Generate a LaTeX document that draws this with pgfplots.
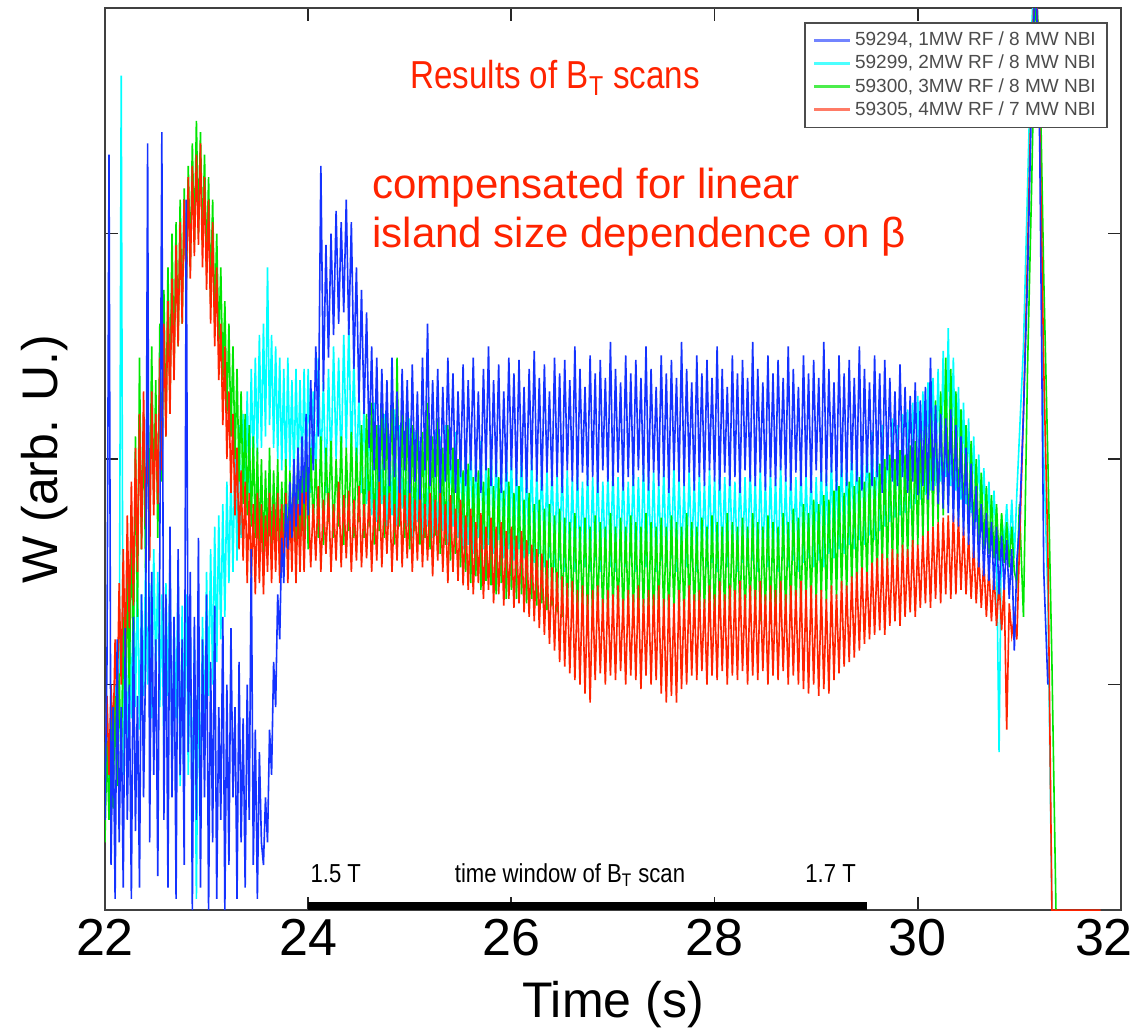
\documentclass[border=0pt]{standalone}
\usepackage{pgfplots}
\pgfplotsset{compat=1.18}
\usepackage{pgfplotstable}
\usepackage{fontspec}
\setmainfont{Liberation Sans}
\definecolor{bW}{RGB}{20,50,255}
\definecolor{cW}{RGB}{0,255,255}
\definecolor{gW}{RGB}{0,230,0}
\definecolor{rW}{RGB}{255,35,0}
\pgfplotstableread{
t b c g r
22.00 0.40 0.60 0.30 0.65
22.02 1.10 0.95 0.75 0.95
22.04 3.35 0.45 0.40 0.60
22.06 0.20 0.90 0.85 1.00
22.08 0.90 0.50 0.45 0.75
22.10 0.05 1.00 0.95 1.20
22.12 1.20 0.60 0.55 0.90
22.14 0.30 0.85 1.05 1.45
22.16 0.90 3.70 0.60 1.00
22.18 0.10 0.60 1.30 1.60
22.20 1.25 1.10 0.80 1.10
22.22 0.40 0.75 1.50 1.75
22.24 1.00 1.35 0.95 1.25
22.26 0.05 0.85 1.75 1.90
22.28 1.30 1.45 1.10 1.35
22.30 0.35 0.90 2.10 2.05
22.32 0.95 1.50 1.30 1.50
22.34 0.10 0.80 2.45 2.20
22.36 1.40 1.40 1.60 1.60
22.38 0.50 0.95 2.20 2.30
22.40 1.10 1.55 1.50 1.70
22.42 3.40 1.00 2.40 2.15
22.44 0.30 1.45 1.70 1.55
22.46 1.50 0.85 2.50 2.30
22.48 0.60 1.60 1.80 1.75
22.50 1.20 1.05 2.35 2.20
22.52 0.15 1.50 1.65 1.80
22.54 1.60 0.90 2.60 2.45
22.56 3.45 1.40 1.90 1.95
22.58 0.40 0.70 2.75 2.60
22.60 1.40 1.45 2.10 2.10
22.62 0.10 0.95 2.85 2.70
22.64 1.70 1.55 2.25 2.20
22.66 0.50 0.60 3.00 2.80
22.68 1.30 1.30 2.40 2.35
22.70 0.05 0.85 3.05 2.95
22.72 1.60 1.50 2.50 2.50
22.74 0.60 0.55 3.15 3.05
22.76 1.20 1.35 2.60 2.60
22.78 0.20 0.80 3.20 3.15
22.80 3.15 1.40 2.75 2.75
22.82 0.70 0.60 3.30 3.25
22.84 1.50 1.25 2.85 2.80
22.86 0.00 0.35 3.40 3.30
22.88 1.30 1.20 2.95 2.90
22.90 0.40 0.05 3.50 3.35
22.92 1.65 1.10 3.00 2.95
22.94 0.10 0.40 3.45 3.40
22.96 1.20 1.30 2.95 2.85
22.98 0.50 0.80 3.35 3.25
23.00 1.40 1.50 2.85 2.75
23.02 0.00 0.95 3.25 3.15
23.04 1.10 1.60 2.70 2.60
23.06 0.30 1.00 3.15 3.05
23.08 1.35 1.70 2.60 2.50
23.10 0.05 1.10 3.00 2.85
23.12 0.90 1.75 2.50 2.35
23.14 0.40 1.20 2.85 2.60
23.16 1.30 1.80 2.35 2.15
23.18 0.00 1.30 2.70 2.50
23.20 1.00 1.90 2.20 2.00
23.22 0.20 1.45 2.60 2.30
23.24 1.25 1.95 2.10 1.85
23.26 0.50 1.50 2.50 2.20
23.28 0.90 2.05 2.00 1.75
23.30 0.05 1.55 2.40 2.05
23.32 1.10 2.15 1.90 1.60
23.34 0.30 1.65 2.30 1.95
23.36 0.85 2.20 1.80 1.55
23.38 0.10 1.75 2.20 1.90
23.40 1.00 2.30 1.75 1.45
23.42 0.40 1.85 2.15 1.85
23.44 1.60 2.40 1.70 1.45
23.46 0.20 1.95 2.10 1.80
23.48 0.80 2.45 1.65 1.40
23.50 0.05 2.00 2.05 1.85
23.52 0.70 2.55 1.60 1.45
23.54 0.30 2.05 2.00 1.80
23.56 0.20 2.60 1.55 1.40
23.58 0.50 2.10 1.95 1.75
23.60 0.30 2.85 1.60 1.50
23.62 0.80 2.15 2.05 1.85
23.64 0.60 2.55 1.55 1.45
23.66 1.10 2.05 1.95 1.80
23.68 0.90 2.50 1.60 1.50
23.70 1.40 2.00 2.00 1.85
23.72 1.20 2.45 1.55 1.45
23.74 1.65 1.95 1.90 1.80
23.76 1.45 2.40 1.60 1.50
23.78 1.80 1.90 2.00 1.85
23.80 1.60 2.45 1.55 1.45
23.82 1.90 1.95 1.95 1.80
23.84 1.65 2.35 1.60 1.50
23.86 2.00 1.90 2.00 1.85
23.88 1.70 2.40 1.55 1.45
23.90 2.05 1.95 2.05 1.80
23.92 1.75 2.35 1.60 1.50
23.94 2.10 1.90 2.00 1.85
23.96 1.80 2.40 1.60 1.50
23.98 2.20 1.90 2.05 1.85
24.000 1.75 2.40 1.60 1.85
24.025 2.35 1.85 2.05 1.52
24.050 1.95 2.30 1.70 1.80
24.075 2.50 1.90 2.00 1.55
24.100 2.10 2.45 1.65 1.88
24.125 3.30 1.95 2.10 1.50
24.150 2.30 2.35 1.62 1.82
24.175 2.95 1.85 2.05 1.58
24.200 2.45 2.40 1.72 1.85
24.225 3.00 1.95 2.08 1.50
24.250 2.55 2.50 1.65 1.80
24.275 3.10 2.00 2.00 1.55
24.300 2.60 2.45 1.70 1.90
24.325 3.05 1.95 2.10 1.52
24.350 2.65 2.55 1.62 1.84
24.375 3.15 2.05 2.05 1.56
24.400 2.55 2.60 1.68 1.86
24.425 3.05 2.00 2.12 1.50
24.450 2.40 2.45 1.65 1.82
24.475 2.85 1.90 2.05 1.55
24.500 2.25 2.30 1.72 1.88
24.525 2.75 1.85 2.15 1.52
24.550 2.20 2.25 1.65 1.80
24.575 2.65 1.80 2.20 1.56
24.600 2.05 2.20 1.70 1.86
24.625 2.50 1.75 2.25 1.50
24.650 1.95 2.25 1.62 1.82
24.675 2.45 1.72 2.15 1.55
24.700 1.90 2.15 1.68 1.90
24.725 2.40 1.80 2.28 1.52
24.750 1.95 2.20 1.65 1.84
24.775 2.35 1.70 2.20 1.58
24.800 1.88 2.10 1.75 1.85
24.825 2.45 1.75 2.30 1.50
24.850 1.92 2.22 1.62 1.80
24.875 2.30 1.70 2.45 1.55
24.900 1.85 2.15 1.70 1.95
24.925 2.40 1.78 2.20 1.52
24.950 1.95 2.10 1.65 1.84
24.975 2.35 1.70 2.25 1.56
25.000 1.85 2.18 1.60 1.86
25.025 2.42 1.65 2.15 1.50
25.050 1.90 2.12 1.68 1.82
25.075 2.30 1.72 2.20 1.55
25.100 1.82 2.08 1.62 1.88
25.125 2.45 1.62 2.12 1.52
25.150 1.95 2.15 1.65 1.80
25.175 2.60 1.70 2.25 1.55
25.200 1.88 2.05 1.60 1.85
25.225 2.35 1.65 2.10 1.48
25.250 1.92 2.12 1.66 1.82
25.275 2.40 1.60 2.18 1.55
25.300 1.85 2.10 1.58 1.86
25.325 2.32 1.68 2.05 1.50
25.350 1.90 2.15 1.62 1.80
25.375 2.45 1.62 2.15 1.45
25.400 1.95 2.05 1.55 1.84
25.425 2.38 1.70 2.05 1.50
25.450 1.85 2.12 1.58 1.78
25.475 2.30 1.65 2.00 1.46
25.500 1.92 2.08 1.52 1.82
25.525 2.42 1.60 1.95 1.44
25.550 1.88 2.05 1.50 1.75
25.575 2.35 1.62 1.98 1.42
25.600 1.95 2.10 1.45 1.78
25.625 2.45 1.58 1.92 1.40
25.650 1.90 2.02 1.48 1.72
25.675 2.30 1.65 1.95 1.45
25.700 1.85 2.08 1.42 1.76
25.725 2.40 1.60 1.90 1.38
25.750 1.95 2.00 1.46 1.70
25.775 2.50 1.62 1.96 1.42
25.800 1.88 2.10 1.44 1.74
25.825 2.35 1.58 1.88 1.36
25.850 1.92 2.04 1.40 1.70
25.875 2.42 1.64 1.92 1.40
25.900 1.85 2.00 1.45 1.72
25.925 2.30 1.56 1.86 1.35
25.950 1.90 2.06 1.38 1.68
25.975 2.45 1.60 1.90 1.38
26.000 1.95 2.02 1.42 1.70
26.025 2.38 1.55 1.85 1.34
26.050 1.88 1.98 1.38 1.66
26.075 2.44 1.60 1.88 1.36
26.100 1.92 2.05 1.40 1.68
26.125 2.32 1.56 1.82 1.32
26.150 1.85 1.96 1.36 1.64
26.175 2.40 1.58 1.85 1.30
26.200 1.95 2.02 1.38 1.62
26.225 2.48 1.54 1.80 1.28
26.250 1.90 1.95 1.35 1.60
26.275 2.36 1.58 1.82 1.25
26.300 1.86 2.00 1.36 1.58
26.325 2.42 1.52 1.78 1.22
26.350 1.94 1.96 1.33 1.55
26.375 2.30 1.56 1.80 1.18
26.400 1.88 1.98 1.35 1.52
26.425 2.45 1.52 1.75 1.15
26.450 1.92 1.94 1.32 1.50
26.475 2.38 1.55 1.78 1.10
26.500 1.85 1.98 1.30 1.48
26.525 2.44 1.50 1.74 1.08
26.550 1.95 1.95 1.32 1.45
26.575 2.35 1.55 1.72 1.05
26.600 1.90 1.92 1.30 1.46
26.625 2.50 1.50 1.76 1.02
26.650 1.86 1.96 1.28 1.42
26.675 2.40 1.54 1.70 1.00
26.700 1.94 1.90 1.32 1.44
26.725 2.32 1.52 1.74 0.96
26.750 1.88 1.95 1.30 1.40
26.775 2.46 1.50 1.70 0.92
26.800 1.92 1.92 1.28 1.42
26.825 2.38 1.55 1.75 1.02
26.850 1.85 1.96 1.32 1.44
26.875 2.44 1.50 1.72 1.05
26.900 1.95 1.90 1.30 1.38
26.925 2.36 1.54 1.70 1.00
26.950 1.90 1.94 1.28 1.42
26.975 2.52 1.52 1.76 1.04
27.000 1.88 1.98 1.32 1.40
27.025 2.40 1.50 1.70 1.02
27.050 1.94 1.92 1.30 1.44
27.075 2.34 1.55 1.74 1.06
27.100 1.86 1.95 1.28 1.38
27.125 2.46 1.52 1.70 1.00
27.150 1.92 1.90 1.32 1.42
27.175 2.38 1.56 1.75 1.04
27.200 1.88 1.96 1.30 1.40
27.225 2.44 1.50 1.72 1.02
27.250 1.95 1.92 1.28 1.44
27.275 2.36 1.54 1.70 0.98
27.300 1.90 1.98 1.32 1.38
27.325 2.50 1.52 1.76 1.04
27.350 1.86 1.92 1.30 1.42
27.375 2.40 1.56 1.72 1.00
27.400 1.94 1.95 1.28 1.40
27.425 2.32 1.50 1.70 1.02
27.450 1.88 1.90 1.32 1.44
27.475 2.46 1.55 1.74 0.96
27.500 1.92 1.96 1.30 1.38
27.525 2.38 1.52 1.70 0.92
27.550 1.85 1.92 1.28 1.40
27.575 2.44 1.56 1.75 0.95
27.600 1.95 1.98 1.32 1.36
27.625 2.36 1.50 1.72 0.92
27.650 1.90 1.94 1.30 1.42
27.675 2.52 1.54 1.70 0.98
27.700 1.88 1.90 1.28 1.38
27.725 2.40 1.52 1.76 1.00
27.750 1.94 1.96 1.32 1.44
27.775 2.34 1.55 1.72 1.04
27.800 1.86 1.92 1.30 1.40
27.825 2.46 1.50 1.70 1.02
27.850 1.92 1.95 1.28 1.42
27.875 2.38 1.56 1.74 1.06
27.900 1.88 1.90 1.32 1.38
27.925 2.44 1.52 1.70 1.00
27.950 1.95 1.96 1.30 1.44
27.975 2.36 1.54 1.75 1.04
28.000 1.90 1.92 1.28 1.40
28.025 2.50 1.50 1.72 1.02
28.050 1.86 1.98 1.32 1.46
28.075 2.40 1.55 1.70 1.06
28.100 1.94 1.92 1.30 1.40
28.125 2.32 1.52 1.76 1.00
28.150 1.88 1.96 1.28 1.44
28.175 2.46 1.56 1.72 1.04
28.200 1.92 1.90 1.32 1.42
28.225 2.38 1.50 1.70 1.02
28.250 1.85 1.95 1.30 1.46
28.275 2.44 1.54 1.74 1.06
28.300 1.95 1.92 1.28 1.40
28.325 2.36 1.52 1.70 1.00
28.350 1.90 1.98 1.32 1.44
28.375 2.52 1.55 1.76 1.04
28.400 1.88 1.92 1.30 1.42
28.425 2.40 1.50 1.72 1.02
28.450 1.94 1.96 1.28 1.46
28.475 2.34 1.56 1.70 1.06
28.500 1.86 1.90 1.32 1.40
28.525 2.46 1.52 1.75 1.00
28.550 1.92 1.95 1.30 1.44
28.575 2.38 1.54 1.72 1.04
28.600 1.88 1.92 1.28 1.42
28.625 2.44 1.50 1.70 1.02
28.650 1.95 1.98 1.32 1.46
28.675 2.36 1.56 1.76 1.06
28.700 1.90 1.92 1.30 1.40
28.725 2.50 1.52 1.72 1.00
28.750 1.86 1.96 1.32 1.44
28.775 2.40 1.55 1.78 1.04
28.800 1.94 1.92 1.34 1.42
28.825 2.32 1.50 1.74 1.00
28.850 1.88 1.98 1.32 1.46
28.875 2.46 1.54 1.80 0.98
28.900 1.92 1.94 1.36 1.42
28.925 2.38 1.56 1.76 0.96
28.950 1.85 1.96 1.34 1.44
28.975 2.44 1.52 1.82 1.00
29.000 1.95 1.92 1.36 1.40
29.025 2.36 1.55 1.80 0.95
29.050 1.90 1.98 1.38 1.42
29.075 2.52 1.52 1.84 0.98
29.100 1.88 1.94 1.36 1.38
29.125 2.40 1.58 1.82 0.96
29.150 1.94 2.00 1.40 1.44
29.175 2.34 1.56 1.86 1.02
29.200 1.86 1.96 1.38 1.40
29.225 2.46 1.60 1.88 1.05
29.250 1.92 2.02 1.42 1.46
29.275 2.38 1.58 1.85 1.08
29.300 1.88 2.00 1.40 1.44
29.325 2.44 1.62 1.90 1.10
29.350 1.95 2.06 1.44 1.48
29.375 2.36 1.60 1.88 1.12
29.400 1.90 2.04 1.42 1.50
29.425 2.50 1.64 1.92 1.15
29.450 1.86 2.08 1.46 1.52
29.475 2.40 1.62 1.90 1.18
29.500 1.94 2.10 1.44 1.50
29.525 2.34 1.66 1.94 1.20
29.550 1.88 2.12 1.48 1.54
29.575 2.46 1.64 1.92 1.22
29.600 1.92 2.10 1.46 1.56
29.625 2.38 1.68 1.98 1.24
29.650 1.85 2.15 1.52 1.58
29.675 2.44 1.70 2.00 1.22
29.700 1.95 2.12 1.50 1.56
29.725 2.36 1.72 2.02 1.26
29.750 1.90 2.18 1.54 1.60
29.775 2.30 1.74 2.00 1.28
29.800 1.88 2.15 1.52 1.58
29.825 2.42 1.75 2.04 1.26
29.850 1.92 2.20 1.56 1.62
29.875 2.32 1.76 2.02 1.30
29.900 1.85 2.22 1.55 1.60
29.925 2.28 1.78 2.06 1.32
29.950 1.90 2.25 1.58 1.64
29.975 2.34 1.80 2.08 1.30
30.000 1.84 2.28 1.62 1.62
30.025 2.26 1.82 2.12 1.34
30.050 1.88 2.30 1.64 1.66
30.075 2.32 1.84 2.15 1.36
30.100 1.82 2.34 1.68 1.68
30.125 2.45 1.86 2.22 1.34
30.150 1.86 2.36 1.70 1.70
30.175 2.24 1.88 2.26 1.38
30.200 1.80 2.40 1.72 1.72
30.225 2.20 1.90 2.30 1.36
30.250 1.78 2.48 1.75 1.74
30.275 2.18 1.92 2.45 1.40
30.300 1.76 2.58 1.80 1.75
30.325 2.22 1.88 2.40 1.38
30.350 1.72 2.45 1.78 1.76
30.375 2.15 1.86 2.30 1.40
30.400 1.70 2.32 1.75 1.74
30.425 2.10 1.82 2.22 1.42
30.450 1.66 2.25 1.72 1.70
30.475 2.05 1.80 2.15 1.40
30.500 1.62 2.18 1.68 1.66
30.525 1.98 1.76 2.08 1.38
30.550 1.56 2.10 1.66 1.62
30.575 1.88 1.72 2.00 1.36
30.600 1.52 2.02 1.62 1.58
30.625 1.80 1.70 1.94 1.34
30.650 1.48 1.96 1.60 1.55
30.675 1.76 1.66 1.88 1.30
30.700 1.46 1.90 1.58 1.52
30.725 1.72 1.62 1.84 1.28
30.750 1.42 1.86 1.56 1.50
30.775 1.70 1.60 1.80 1.26
30.800 1.40 0.70 1.55 1.46
30.825 1.66 1.75 1.76 1.24
30.850 1.42 1.62 1.54 1.44
30.875 1.64 1.80 1.72 0.80
30.900 1.38 1.58 1.52 1.36
30.925 1.60 1.82 1.70 1.22
30.950 1.15 1.56 1.50 1.30
30.975 1.55 1.85 1.45 1.20
31.00 1.70 2.10 1.80 1.60
31.04 2.20 2.50 1.30 2.20
31.08 2.80 3.20 2.40 2.90
31.12 3.60 3.90 3.20 3.70
31.16 4.20 4.30 4.10 4.30
31.20 3.40 3.60 3.80 3.50
31.24 1.50 2.00 2.80 2.40
31.28 1.00 1.40 2.00 1.60
31.32 nan 0.00 1.10 0.00
31.36 nan nan 0.00 0.00
31.80 nan nan nan 0.00
}\datatab
\begin{document}
\begin{tikzpicture}
\begin{axis}[
  scale only axis, width=508pt, height=451pt,
  xmin=22, xmax=32, ymin=0, ymax=4,
  xtick={22,24,...,32}, xticklabels={22,24,26,28,30,\hspace*{-17pt}32},
  ytick={0,1,2,3,4}, yticklabels={},
  xtick pos=both, ytick pos=both, xticklabel pos=lower,
  tick align=inside, major tick length=6.5pt,
  axis line style={black!75, line width=1.3pt},
  tick style={black!85, line width=0.9pt},
  xlabel={Time (s)}, ylabel={W (arb. U.)},
  xlabel style={font=\fontsize{25}{30}\selectfont, yshift=-6pt},
  ylabel style={font=\fontsize{25}{30}\selectfont, at={(rel axis cs:-0.059,0.5)}, anchor=center, rotate=0},
  ticklabel style={font=\fontsize{26}{30}\selectfont},
  xticklabel style={yshift=-1pt},
  /pgf/number format/assume math mode=true,
  unbounded coords=jump,
  legend style={at={(rel axis cs:0.987,0.9845)}, anchor=north east, draw=black!70, line width=0.8pt,
    font=\fontsize{9.5}{11}\selectfont, text=black!70, row sep=0pt, inner xsep=4pt, inner ysep=3pt,
    nodes={inner sep=1.6pt}, cells={anchor=west}},
  legend image code/.code={\draw[#1, line width=1.4pt] (0pt,0pt) -- (18pt,0pt);},
]
\addlegendimage{bW!60}\addlegendentry{59294, 1MW RF / 8 MW NBI}
\addlegendimage{cW!70}\addlegendentry{59299, 2MW RF / 8 MW NBI}
\addlegendimage{gW!70}\addlegendentry{59300, 3MW RF / 8 MW NBI}
\addlegendimage{rW!60}\addlegendentry{59305, 4MW RF / 7 MW NBI}
\addplot[cW, line width=0.8pt, forget plot] table[x=t, y=c] {\datatab};
\addplot[gW, line width=0.8pt, forget plot] table[x=t, y=g] {\datatab};
\addplot[rW, line width=0.8pt, forget plot] table[x=t, y=r] {\datatab};
\addplot[bW, line width=0.8pt, forget plot] table[x=t, y=b] {\datatab};
\addplot[black, line width=4pt, forget plot] coordinates {(24,0.018) (29.5,0.018)};
\node[rW, font=\fontsize{19.5}{22}\selectfont] at (axis cs:26.43,3.69) {\scalebox{0.85}[1]{Results of B\textsubscript{T} scans}};
\node[rW, font=\fontsize{21}{25}\selectfont, anchor=base west, inner sep=0pt] at (axis cs:24.63,3.157) {compensated for linear};
\node[rW, font=\fontsize{21}{25}\selectfont, anchor=base west, inner sep=0pt] at (axis cs:24.63,2.936) {island size dependence on β};
\node[black, font=\fontsize{13}{15}\selectfont, anchor=base west, inner sep=0pt] at (axis cs:24.02,0.124) {\scalebox{0.85}[1]{1.5 T}};
\node[black, font=\fontsize{13}{15}\selectfont, anchor=base west, inner sep=0pt] at (axis cs:25.44,0.124) {\scalebox{0.85}[1]{time window of B\textsubscript{T} scan}};
\node[black, font=\fontsize{13}{15}\selectfont, anchor=base west, inner sep=0pt] at (axis cs:28.89,0.124) {\scalebox{0.85}[1]{1.7 T}};
\coordinate (BL) at (rel axis cs:-0.1033,-0.1308);
\coordinate (TR) at (rel axis cs:1.0138,1.0089);
\end{axis}
\pgfresetboundingbox
\path[use as bounding box] (BL) rectangle (TR);
\end{tikzpicture}
\end{document}
